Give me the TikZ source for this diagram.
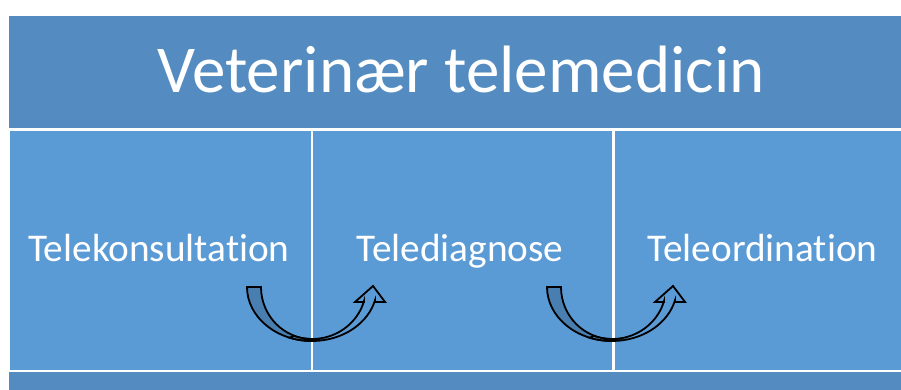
\documentclass[tikz,border=0pt]{standalone}
\usepackage{fontspec}
\setmainfont[Ligatures=NoCommon]{Carlito}
\definecolor{barblue}{RGB}{84,140,193}
\definecolor{cellblue}{RGB}{91,155,213}
\definecolor{backblue}{RGB}{72,126,176}
\begin{document}
\begin{tikzpicture}[x=1pt,y=1pt,
  bar/.style={fill=barblue, inner sep=0pt, anchor=south west, minimum width=906pt},
  cellbox/.style={fill=cellblue, inner sep=0pt, anchor=south west, minimum height=239pt},
  celltext/.style={anchor=base, text=white, inner sep=0pt, font=\fontsize{39.3}{41}\selectfont},
  titletext/.style={anchor=base, text=white, inner sep=0pt, font=\fontsize{67}{70}\selectfont},
  ribbon/.style={draw=black, line width=1.8pt, line join=miter},
  curvarrow/.pic={
    \filldraw[ribbon, fill=backblue]
      (-65,0) arc[start angle=180, end angle=270, x radius=65, y radius=54]
      -- (0,-52) arc[start angle=270, end angle=180, x radius=51, y radius=52] -- cycle;
    \filldraw[ribbon, fill=cellblue]
      (-22.23,-50.74) arc[start angle=250, end angle=345.7, x radius=65, y radius=54]
      -- (63,-15) -- (73,-15) -- (61,1) -- (43,-15) -- (52,-15) -- (52,-14)
      arc[start angle=344.4, end angle=250, x radius=54, y radius=52] -- cycle;
  }]
\useasboundingbox (0,0) rectangle (901,390);
\fill[white] (0,0) rectangle (901,390);
\clip (0,0) rectangle (901,390);
\node[bar, minimum height=112pt] (topbar) at (9,262) {};
\node[bar, minimum height=18pt] (botbar) at (9,0) {};
\node[cellbox, minimum width=300.5pt] (c1) at (10,20) {};
\node[cellbox, minimum width=299.5pt] (c2) at (312.5,20) {};
\node[cellbox, minimum width=300pt] (c3) at (614.5,20) {};
\node[titletext] (title) at (461,297) {Veterinær telemedicin};
\node[celltext] (t1) at (159,128) {Telekonsultation};
\node[celltext] (t2) at (460,128) {Telediagnose};
\node[celltext] (t3) at (762.5,128) {Teleordination};
\pic at (312,103) {curvarrow};
\pic at (612,103) {curvarrow};
\end{tikzpicture}
\end{document}
